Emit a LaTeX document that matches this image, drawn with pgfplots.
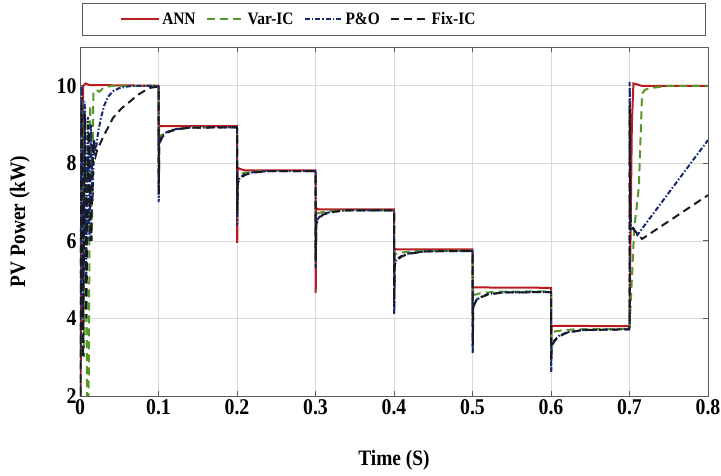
\documentclass[border=0pt]{standalone}
\usepackage{pgfplots}
\pgfplotsset{compat=1.18}
\usepackage{fontspec}
\setmainfont{Liberation Serif}
\newfontfamily\condfont{Liberation Serif}[FakeStretch=0.88]
\definecolor{annred}{RGB}{185,28,32}
\definecolor{vargreen}{RGB}{88,150,40}
\definecolor{ponavy}{RGB}{22,40,110}
\definecolor{fixblack}{RGB}{25,25,35}
\definecolor{framegray}{RGB}{90,90,90}
\begin{document}
\begin{tikzpicture}
\path[use as bounding box] (-80pt,-80pt) rectangle (641pt,396pt);
\begin{axis}[
  at={(0,0)}, anchor=south west,
  scale only axis, width=628pt, height=349pt,
  xmin=0, xmax=0.8, ymin=2, ymax=11,
  xtick={0,0.1,...,0.8}, ytick={2,4,6,8,10},
  xticklabels={0,0.1,0.2,0.3,0.4,0.5,0.6,0.7,0.8},
  grid=major, grid style={line width=0.6pt, draw=black!15},
  axis line style={framegray, line width=0.8pt},
  tick style={framegray, line width=0.8pt}, tick align=inside,
  major tick length=5pt,
  /pgf/number format/assume math mode=true,
  tick label style={font=\condfont\bfseries\fontsize{22.5}{22}\selectfont},
  xlabel={Time (S)}, ylabel={PV Power (kW)},
  label style={font=\condfont\bfseries\fontsize{22}{22}\selectfont},
  xlabel style={at={(axis description cs:0.5,-0.183)}, anchor=center},
  ylabel style={at={(axis description cs:-0.096,0.5)}, anchor=center, rotate=0},
  legend columns=4,
  legend style={at={(axis description cs:0.059,1.08)}, anchor=west, draw=none, fill=none,
    font=\condfont\bfseries\fontsize{17.5}{17}\selectfont,
    /tikz/every even column/.append style={column sep=8pt}},
  legend image code/.code={\draw[#1] (0pt,0pt) -- (38pt,0pt);},
]
% ANN
\addplot[annred, line width=2pt] table {
0 0
0.002 6
0.004 10.0
0.007 10.06
0.012 10.02
0.1 10.0
0.1003 8.5
0.1008 8.97
0.103 8.96
0.2 8.96
0.2003 5.95
0.2008 7.9
0.203 7.86
0.21 7.82
0.3 7.82
0.3003 4.66
0.3008 6.85
0.304 6.81
0.4 6.81
0.4003 5.3
0.4008 5.8
0.404 5.78
0.5 5.78
0.5003 4.2
0.5008 4.8
0.6 4.79
0.6003 3.4
0.6008 3.81
0.7 3.80
0.703 9.0
0.705 10.06
0.709 10.04
0.715 10.0
0.8 10.0
};
\addlegendentry{ANN}
% Var-IC
\addplot[vargreen, line width=2pt, dash pattern=on 8pt off 5pt] table {
0 0
0.003 9.6
0.005 3
0.007 9.2
0.009 2
0.011 2
0.013 9.5
0.015 6
0.017 9.8
0.02 9.9
0.025 9.85
0.03 9.95
0.04 10
0.1 10
0.1003 7.6
0.101 8.7
0.11 8.8
0.13 8.9
0.15 8.93
0.2 8.93
0.2003 6.6
0.201 7.7
0.21 7.76
0.23 7.8
0.3 7.8
0.3003 5.7
0.301 6.7
0.31 6.75
0.33 6.79
0.4 6.79
0.4003 4.8
0.401 5.65
0.41 5.7
0.43 5.74
0.5 5.75
0.5003 3.9
0.501 4.6
0.51 4.65
0.53 4.69
0.6 4.70
0.6003 3.2
0.601 3.65
0.61 3.68
0.63 3.72
0.7 3.73
0.706 6.3
0.712 7.4
0.716 9.8
0.72 9.9
0.73 9.95
0.75 10
0.8 10
};
\addlegendentry{Var-IC}
% P&O
\addplot[ponavy, line width=2pt, dash pattern=on 5pt off 2pt on 1.5pt off 2pt] table {
0 0
0.002 10
0.004 4
0.006 9.6
0.008 5
0.010 9.2
0.012 6
0.014 9
0.016 7
0.018 8.6
0.02 8.3
0.023 8.8
0.027 9.2
0.031 9.5
0.036 9.72
0.042 9.86
0.05 9.94
0.06 9.98
0.07 10
0.1 10
0.1003 7.0
0.101 8.6
0.105 8.72
0.11 8.8
0.12 8.88
0.14 8.92
0.2 8.93
0.2003 6.4
0.201 7.55
0.205 7.65
0.21 7.72
0.22 7.77
0.24 7.8
0.3 7.8
0.3003 5.3
0.301 6.5
0.305 6.62
0.31 6.7
0.32 6.75
0.34 6.79
0.4 6.79
0.4003 4.1
0.401 5.45
0.405 5.55
0.41 5.62
0.42 5.68
0.44 5.73
0.5 5.74
0.5003 3.1
0.501 4.35
0.505 4.48
0.51 4.55
0.52 4.63
0.54 4.67
0.6 4.68
0.6003 2.62
0.601 3.35
0.605 3.45
0.61 3.55
0.62 3.64
0.64 3.7
0.7 3.72
0.7003 10.1
0.7008 7.0
0.702 6.3
0.705 6.33
0.71 6.15
0.8 8.6
};
\addlegendentry{P\&O}
% Fix-IC
\addplot[fixblack, line width=2pt, dash pattern=on 8pt off 5pt] table {
0 0
0.002 9.5
0.004 3
0.006 9.3
0.008 4
0.011 9
0.014 6
0.017 8.6
0.02 8.2
0.022 8.35
0.03 8.7
0.042 9.17
0.053 9.42
0.064 9.6
0.074 9.77
0.083 9.88
0.09 9.95
0.1 9.98
0.1003 7.2
0.101 8.5
0.105 8.68
0.11 8.78
0.12 8.87
0.14 8.92
0.2 8.93
0.2003 6.7
0.201 7.5
0.205 7.62
0.21 7.7
0.22 7.76
0.24 7.8
0.3 7.8
0.3003 5.5
0.301 6.45
0.305 6.6
0.31 6.68
0.32 6.74
0.34 6.79
0.4 6.79
0.4003 4.3
0.401 5.4
0.405 5.52
0.41 5.6
0.42 5.67
0.44 5.73
0.5 5.74
0.5003 3.3
0.501 4.3
0.505 4.46
0.51 4.54
0.52 4.62
0.54 4.67
0.6 4.68
0.6003 2.9
0.601 3.3
0.605 3.43
0.61 3.53
0.62 3.63
0.64 3.7
0.7 3.72
0.7003 9.5
0.701 6.5
0.705 6.3
0.716 6.05
0.8 7.18
};
\addlegendentry{Fix-IC}
\end{axis}
\draw[framegray, line width=0.9pt] (2pt,361pt) rectangle (625pt,393pt);
\end{tikzpicture}
\end{document}
